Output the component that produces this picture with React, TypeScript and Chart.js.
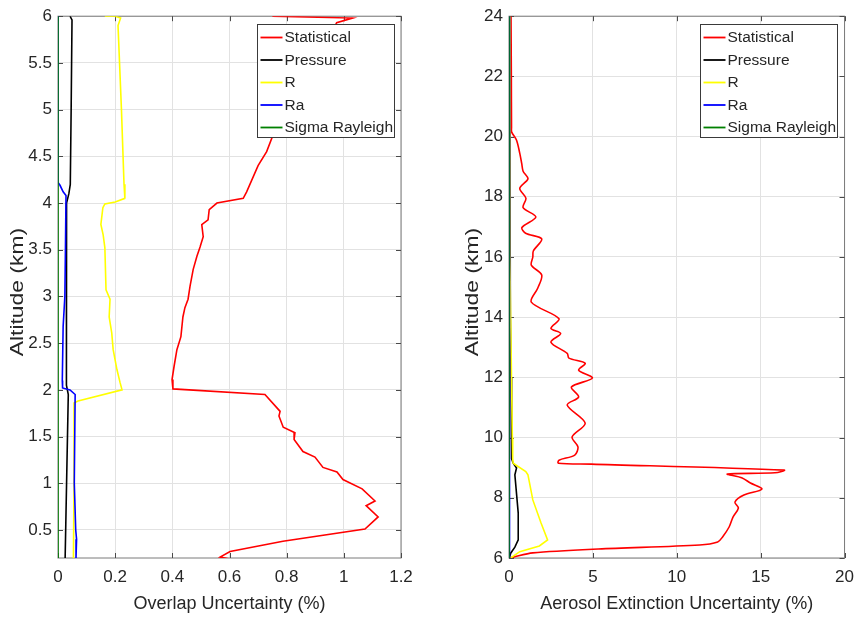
import React, { useEffect, useRef } from 'react';
import { Chart, registerables } from 'chart.js';

Chart.register(...registerables);

const FONT = '"Liberation Sans", Arial, Helvetica, sans-serif';
const TEXT = '#262626';

const seriesNames = ['Statistical', 'Pressure', 'R', 'Ra', 'Sigma Rayleigh'];
const seriesColors = ['#ff0000', '#000000', '#ffff00', '#0000ff', '#008000'];

// ---------- Left panel: Overlap uncertainty ----------
const leftXTicks = [0, 0.2, 0.4, 0.6, 0.8, 1, 1.2];
const leftYTicks = [0.5, 1, 1.5, 2, 2.5, 3, 3.5, 4, 4.5, 5, 5.5, 6];

const leftStatAlt = [6.0, 5.98, 5.93, 5.6, 5.2, 4.9, 4.71, 4.55, 4.4, 4.12, 4.05, 4.0, 3.93, 3.82, 3.77, 3.64, 3.53, 3.43, 3.29, 3.11, 2.97, 2.88, 2.78, 2.57, 2.43, 2.25, 2.11, 2.01, 1.95, 1.77, 1.72, 1.6, 1.54, 1.47, 1.34, 1.28, 1.17, 1.12, 1.04, 0.94, 0.81, 0.76, 0.64, 0.51, 0.38, 0.27, 0.21, 0.19];
const leftStatVal = [0.75, 1.03, 0.975, 0.92, 0.86, 0.8, 0.75, 0.73, 0.7, 0.66, 0.648, 0.556, 0.529, 0.525, 0.503, 0.508, 0.497, 0.486, 0.473, 0.462, 0.455, 0.444, 0.437, 0.43, 0.416, 0.406, 0.399, 0.402, 0.724, 0.777, 0.773, 0.788, 0.829, 0.826, 0.857, 0.899, 0.927, 0.976, 0.997, 1.064, 1.109, 1.078, 1.12, 1.074, 0.787, 0.602, 0.567, 0.6];

const leftPresAlt = [6.0, 5.96, 5.0, 4.2, 4.1, 4.0, 3.0, 2.05, 1.95, 1.0, 0.2];
const leftPresVal = [0.042, 0.049, 0.046, 0.043, 0.038, 0.03, 0.029, 0.03, 0.036, 0.03, 0.025];

const leftRAlt = [6.0, 6.0, 5.98, 5.9, 5.0, 4.2, 4.05, 4.01, 3.99, 3.95, 3.77, 3.66, 3.52, 3.07, 2.97, 2.78, 2.61, 2.43, 2.22, 2.08, 2.0, 1.88, 1.86, 1.0, 0.2];
const leftRVal = [0.164, 0.2, 0.219, 0.21, 0.222, 0.231, 0.234, 0.2, 0.164, 0.157, 0.15, 0.158, 0.164, 0.168, 0.182, 0.179, 0.188, 0.193, 0.206, 0.217, 0.224, 0.07, 0.056, 0.056, 0.054];

const leftRaAlt = [6.0, 4.22, 4.19, 4.12, 4.08, 3.5, 3.0, 2.68, 2.1, 2.02, 2.0, 1.95, 1.0, 0.5, 0.4, 0.2];
const leftRaVal = [0.0, 0.0, 0.007, 0.018, 0.028, 0.026, 0.024, 0.018, 0.015, 0.016, 0.042, 0.06, 0.057, 0.062, 0.065, 0.063];

const leftSigAlt = [6.0, 0.2];
const leftSigVal = [0.0, 0.0];

// ---------- Right panel: Aerosol extinction uncertainty ----------
const rightXTicks = [0, 5, 10, 15, 20];
const rightYTicks = [6, 8, 10, 12, 14, 16, 18, 20, 22, 24];

const rightStatAlt = [24, 22, 20.3, 20.15, 19.88, 19.45, 19.1, 18.85, 18.6, 18.28, 17.95, 17.64, 17.33, 16.98, 16.79, 16.6, 16.2, 16.0, 15.73, 15.4, 14.96, 14.5, 13.95, 13.63, 13.46, 13.17, 12.8, 12.64, 12.47, 12.24, 11.98, 11.68, 11.35, 11.08, 10.48, 10.02, 9.69, 9.42, 9.25, 9.15, 9.12, 8.92, 8.83, 8.79, 8.66, 8.49, 8.29, 8.09, 7.86, 7.66, 7.36, 7.03, 6.7, 6.53, 6.43, 6.3, 6.17, 6.03, 6.0];
const rightStatVal = [0.12, 0.14, 0.15, 0.16, 0.45, 0.64, 0.76, 0.84, 1.13, 0.64, 1.01, 0.84, 1.6, 0.77, 0.99, 1.95, 1.45, 1.42, 1.33, 1.95, 1.71, 1.33, 2.98, 2.5, 3.08, 2.5, 3.47, 3.57, 4.54, 4.15, 4.97, 3.72, 4.15, 3.47, 4.54, 3.76, 4.11, 3.92, 2.98, 2.94, 4.9, 16.4, 15.85, 13.02, 13.9, 14.39, 15.07, 14.0, 13.47, 13.67, 13.35, 13.12, 12.73, 12.44, 11.36, 5.32, 1.42, 0.25, 0.06];

const rightPresAlt = [24, 14, 12, 10, 9.3, 9.15, 8.99, 8.76, 7.49, 6.6, 6.36, 6.16, 6.0];
const rightPresVal = [0.05, 0.08, 0.12, 0.15, 0.16, 0.25, 0.45, 0.35, 0.55, 0.55, 0.35, 0.1, 0.02];

const rightRAlt = [24, 16, 14, 12, 10, 9.3, 9.15, 8.87, 8.76, 7.93, 7.16, 6.6, 6.4, 6.21, 6.0];
const rightRVal = [0.0, 0.05, 0.1, 0.15, 0.2, 0.22, 0.25, 1.0, 1.13, 1.42, 1.91, 2.3, 1.81, 0.64, 0.1];

const rightRaAlt = [24, 6];
const rightRaVal = [0.03, 0.03];

const rightSigAlt = [24, 6];
const rightSigVal = [0.0, 0.0];

type Series = { alt: number[]; val: number[] };

const leftSeries: Series[] = [
  { alt: leftStatAlt, val: leftStatVal },
  { alt: leftPresAlt, val: leftPresVal },
  { alt: leftRAlt, val: leftRVal },
  { alt: leftRaAlt, val: leftRaVal },
  { alt: leftSigAlt, val: leftSigVal },
];

const rightSeries: Series[] = [
  { alt: rightStatAlt, val: rightStatVal },
  { alt: rightPresAlt, val: rightPresVal },
  { alt: rightRAlt, val: rightRVal },
  { alt: rightRaAlt, val: rightRaVal },
  { alt: rightSigAlt, val: rightSigVal },
];

const fmt = (v: number) => String(Number(v.toFixed(3)));

const matlabPlugin = {
  id: 'matlab',
  beforeDatasetsDraw(chart: any, _args: any, o: any) {
    const { ctx, chartArea } = chart;
    const { left, right, top, bottom } = chartArea;
    const xs = chart.scales.x;
    const ys = chart.scales.y;
    ctx.save();
    ctx.strokeStyle = '#7a7a7a';
    ctx.lineWidth = 1;
    ctx.strokeRect(left, top, right - left, bottom - top);
    ctx.strokeStyle = '#4a4a4a';
    ctx.beginPath();
    const tl = 5;
    xs.ticks.forEach((t: any) => {
      const px = Math.round(xs.getPixelForValue(t.value)) + 0.5;
      ctx.moveTo(px, bottom);
      ctx.lineTo(px, bottom - tl);
      ctx.moveTo(px, top);
      ctx.lineTo(px, top + tl);
    });
    ys.ticks.forEach((t: any) => {
      const py = Math.round(ys.getPixelForValue(t.value)) + 0.5;
      ctx.moveTo(left, py);
      ctx.lineTo(left + tl, py);
      ctx.moveTo(right, py);
      ctx.lineTo(right - tl, py);
    });
    ctx.stroke();
    ctx.restore();
  },
  afterDraw(chart: any, _args: any, o: any) {
    const { ctx, chartArea } = chart;
    const { right, top, bottom } = chartArea;
    // legend
    const bw = 137;
    const bh = 113;
    const bx = Math.round(right - 7.5 - bw) + 0.5;
    const by = Math.round(top + 8) + 0.5;
    ctx.save();
    ctx.fillStyle = '#ffffff';
    ctx.fillRect(bx, by, bw, bh);
    ctx.strokeStyle = '#3a3a3a';
    ctx.lineWidth = 1;
    ctx.strokeRect(bx, by, bw, bh);
    ctx.font = `15.5px ${FONT}`;
    ctx.textBaseline = 'middle';
    ctx.textAlign = 'left';
    chart.data.datasets.forEach((ds: any, i: number) => {
      const y = by + 13 + i * 22.5;
      ctx.strokeStyle = ds.borderColor;
      ctx.lineWidth = 1.8;
      ctx.beginPath();
      ctx.moveTo(bx + 3, y);
      ctx.lineTo(bx + 25, y);
      ctx.stroke();
      ctx.fillStyle = TEXT;
      ctx.fillText(ds.label, bx + 27, y + 0.5);
    });
    // y title (stretched like the original)
    ctx.translate(o.yTitleX, (top + bottom) / 2 + 5);
    ctx.rotate(-Math.PI / 2);
    ctx.scale(1.27, 1);
    ctx.font = `18px ${FONT}`;
    ctx.textAlign = 'center';
    ctx.textBaseline = 'middle';
    ctx.fillStyle = TEXT;
    ctx.fillText(o.yTitle, 0, 0);
    ctx.restore();
  },
};

function makeConfig(
  series: Series[],
  xMin: number,
  xMax: number,
  yMin: number,
  yMax: number,
  xTicks: number[],
  yTicks: number[],
  xTitle: string,
  yAxisWidth: number,
  yTitleX: number,
  rightPad: number,
  tension: number
): any {
  return {
    type: 'scatter',
    data: {
      datasets: series.map((s, i) => ({
        label: seriesNames[i],
        data: s.alt.map((a, j) => ({ x: s.val[j], y: a })),
        showLine: true,
        borderColor: seriesColors[i],
        backgroundColor: seriesColors[i],
        borderWidth: 1.6,
        pointRadius: 0,
        pointHoverRadius: 0,
        tension: i === 0 ? tension : 0,
        order: 4 - i,
      })),
    },
    options: {
      animation: false,
      responsive: false,
      maintainAspectRatio: false,
      events: [],
      layout: { padding: { top: 16, right: rightPad, left: 0, bottom: 0 } },
      plugins: {
        legend: { display: false },
        tooltip: { enabled: false },
        matlab: { yTitle: 'Altitude (km)', yTitleX },
      },
      scales: {
        x: {
          type: 'linear',
          min: xMin,
          max: xMax,
          afterBuildTicks: (sc: any) => {
            sc.ticks = xTicks.map((v) => ({ value: v }));
          },
          afterFit: (sc: any) => {
            sc.height = 62;
          },
          ticks: {
            padding: 9,
            color: TEXT,
            font: { family: FONT, size: 17 },
            maxRotation: 0,
            autoSkip: false,
            callback: (v: number) => fmt(v),
          },
          grid: { color: '#e2e2e2', lineWidth: 1, drawTicks: false },
          border: { display: false },
          title: {
            display: true,
            text: xTitle,
            color: TEXT,
            font: { family: FONT, size: 18 },
            padding: { top: 0, bottom: 5 },
          },
        },
        y: {
          type: 'linear',
          min: yMin,
          max: yMax,
          afterBuildTicks: (sc: any) => {
            sc.ticks = yTicks.map((v) => ({ value: v }));
          },
          afterFit: (sc: any) => {
            sc.width = yAxisWidth;
          },
          ticks: {
            padding: 6,
            color: TEXT,
            font: { family: FONT, size: 17 },
            autoSkip: false,
            callback: (v: number) => fmt(v),
          },
          grid: { color: '#e2e2e2', lineWidth: 1, drawTicks: false },
          border: { display: false },
        },
      },
    },
    plugins: [matlabPlugin],
  };
}

function Panel(props: { config: any; width: number; height: number; left: number }) {
  const ref = useRef<HTMLCanvasElement | null>(null);
  useEffect(() => {
    if (!ref.current) return;
    const chart = new Chart(ref.current, props.config);
    return () => chart.destroy();
  }, []);
  return (
    <canvas
      ref={ref}
      width={props.width}
      height={props.height}
      style={{ position: 'absolute', left: props.left, top: 0, width: props.width, height: props.height, display: 'block' }}
    />
  );
}

export default function App() {
  const leftConfig = makeConfig(leftSeries, 0, 1.2, 0.2, 6, leftXTicks, leftYTicks, 'Overlap Uncertainty (%)', 58, 18.5, 29, 0);
  const rightConfig = makeConfig(rightSeries, 0, 20, 6, 24, rightXTicks, rightYTicks, 'Aerosol Extinction Uncertainty (%)', 79, 43, 12, 0.3);
  return (
    <div style={{ position: 'absolute', left: 0, top: 0, width: 863, height: 620, background: '#ffffff', overflow: 'hidden' }}>
      <Panel config={leftConfig} width={430} height={620} left={0} />
      <Panel config={rightConfig} width={433} height={620} left={430} />
    </div>
  );
}
